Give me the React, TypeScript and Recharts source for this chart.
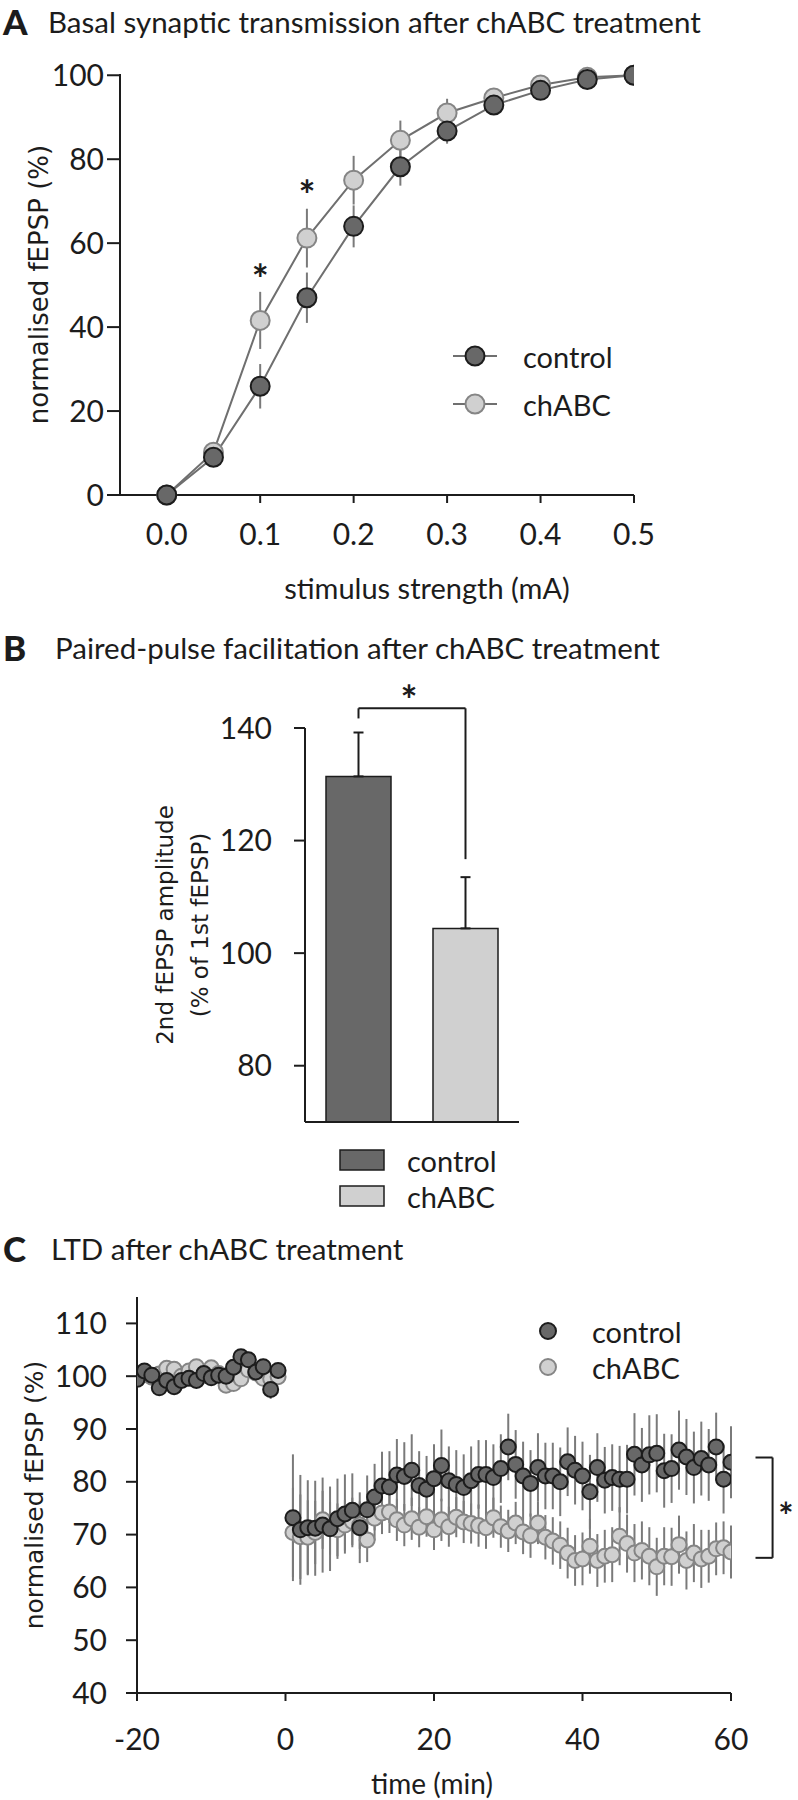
import React from 'react';
import {
  ComposedChart, Line, BarChart, Bar, Cell, ScatterChart, Scatter, XAxis, YAxis,
  ErrorBar, ReferenceLine, ReferenceDot, Legend,
} from 'recharts';

// ---- A: basal synaptic transmission ----
const stimulus = [0, 0.05, 0.1, 0.15, 0.2, 0.25, 0.3, 0.35, 0.4, 0.45, 0.5];
const ioControl = [0, 9.0, 25.9, 47.0, 64.0, 78.2, 86.7, 92.9, 96.4, 99.0, 100];
const ioControlErr = [0, 1.2, 5.3, 6.0, 5.0, 4.5, 3.0, 1.5, 1.2, 0.8, 0];
const ioChabc = [0, 10.2, 41.6, 61.2, 75.0, 84.5, 91.0, 94.6, 97.7, 99.5, 100];
const ioChabcErr = [0, 2.0, 6.8, 7.0, 5.8, 4.7, 3.4, 1.8, 1.2, 0.8, 0];
const ioStarX = [0.1, 0.15];
const ioStarY = [53.4, 73.4];
const ioTicksX = [0, 0.1, 0.2, 0.3, 0.4, 0.5];
const ioTicksY = [0, 20, 40, 60, 80, 100];

// ---- B: paired-pulse facilitation ----
const groups = ['control', 'chABC'];
const ppfMean = [131.4, 104.4];
const ppfSem = [7.8, 9.1];
const ppfTicks = [80, 100, 120, 140];

// ---- C: LTD time course ----
const ltdMinutes = [
  -20, -19, -18, -17, -16, -15, -14, -13, -12, -11, -10, -9, -8, -7, -6, -5, -4, -3, -2, -1,
  1, 2, 3, 4, 5, 6, 7, 8, 9, 10, 11, 12, 13, 14, 15, 16, 17, 18, 19, 20,
  21, 22, 23, 24, 25, 26, 27, 28, 29, 30, 31, 32, 33, 34, 35, 36, 37, 38, 39, 40,
  41, 42, 43, 44, 45, 46, 47, 48, 49, 50, 51, 52, 53, 54, 55, 56, 57, 58, 59, 60,
];
const ltdControl = [
  99.4, 101.0, 100.2, 97.8, 99.2, 98.0, 99.2, 99.6, 99.2, 100.5, 99.7, 100.2, 100.0, 101.7, 103.7, 103.1, 100.8, 101.8, 97.5, 101.1,
  73.2, 70.9, 71.3, 71.2, 71.8, 71.1, 73.0, 73.9, 74.6, 71.3, 74.7, 77.1, 79.2, 79.0, 81.3, 81.0, 82.2, 79.3, 78.6, 80.6,
  83.1, 80.2, 79.5, 78.9, 80.2, 81.4, 81.4, 80.8, 82.5, 86.6, 83.3, 81.1, 79.7, 82.7, 81.1, 81.1, 80.0, 83.8, 82.2, 81.1,
  78.1, 82.7, 80.3, 80.8, 80.5, 80.5, 85.2, 83.2, 85.1, 85.4, 82.1, 82.5, 86.0, 84.7, 82.7, 84.4, 83.2, 86.6, 80.5, 83.7,
];
const ltdControlErr = [
  1.2, 1.0, 1.1, 1.3, 1.0, 1.2, 1.1, 1.0, 1.2, 1.0, 1.1, 1.0, 1.2, 1.1, 1.3, 1.2, 1.4, 1.5, 1.8, 1.4,
  12.0, 10.4, 9.0, 9.0, 9.0, 8.0, 7.6, 7.5, 7.0, 6.7, 6.5, 6.3, 6.5, 6.8, 6.8, 6.5, 6.8, 6.5, 6.3, 6.5,
  6.8, 6.5, 6.5, 6.3, 6.5, 6.5, 6.5, 6.3, 6.5, 6.3, 6.5, 6.5, 6.3, 6.5, 6.3, 6.3, 6.5, 6.5, 6.5, 6.5,
  7.0, 6.5, 6.3, 6.3, 6.3, 6.5, 7.8, 7.0, 7.5, 7.4, 7.0, 6.5, 7.5, 7.2, 6.8, 7.0, 6.8, 6.5, 6.5, 6.8,
];
const ltdChabc = [
  99.5, 100.3, 99.8, 100.4, 101.5, 101.3, 100.0, 101.0, 101.8, 100.2, 101.6, 100.5, 98.3, 98.6, 99.5, 101.2, 100.6, 99.6, 99.5, 99.9,
  70.4, 69.6, 69.5, 70.4, 72.8, 71.2, 70.9, 71.8, 72.5, 71.8, 69.0, 73.1, 74.1, 74.3, 72.8, 71.8, 73.0, 71.4, 73.4, 70.9,
  72.8, 71.5, 73.3, 72.4, 72.1, 71.7, 71.3, 73.2, 71.5, 70.7, 72.2, 70.5, 69.8, 72.2, 69.5, 68.8, 68.0, 66.5, 65.1, 65.4,
  67.8, 65.1, 65.9, 66.2, 69.7, 68.3, 66.5, 67.0, 65.9, 63.9, 65.9, 65.8, 68.1, 65.1, 66.5, 65.4, 65.9, 67.3, 67.5, 66.7,
];
const ltdChabcErr = [
  1.2, 1.0, 1.2, 1.0, 1.1, 1.0, 1.2, 1.0, 1.1, 1.2, 1.0, 1.1, 1.3, 1.2, 1.0, 1.1, 1.2, 1.0, 1.1, 1.0,
  8.5, 8.0, 7.0, 6.0, 5.5, 5.0, 5.0, 4.8, 4.5, 4.5, 4.2, 4.2, 4.0, 4.0, 4.0, 4.0, 4.0, 3.8, 3.8, 3.8,
  4.0, 3.8, 3.8, 4.0, 3.8, 4.0, 4.0, 3.8, 4.0, 4.0, 4.0, 4.2, 4.2, 4.0, 4.2, 4.5, 4.5, 4.8, 4.8, 5.0,
  5.2, 5.0, 5.0, 5.2, 5.5, 5.5, 5.5, 5.5, 5.5, 5.5, 5.5, 5.5, 5.5, 5.5, 5.5, 5.5, 5.0, 5.0, 5.0, 5.0,
];
const ltdBracketY = [84.6, 65.6];
const ltdTicksX = [-20, 0, 20, 40, 60];
const ltdTicksY = [40, 50, 60, 70, 80, 90, 100, 110];

const FONT = 'Lato, "Open Sans", sans-serif';
const YFONT = '"DejaVu Sans", Verdana, sans-serif';
const INK = '#1c1c1c';
const DARK = '#686868';
const LIGHT = '#d0d0d0';
const LIGHT_EDGE = '#858585';
const LINE = '#6f6f6f';
const WHISKER = '#7a7a7a';

const tickStyle = { fontSize: 30, fill: INK, fontFamily: FONT };
const axisLine = { stroke: INK, strokeWidth: 2 };

const PanelTitle = ({ letter, text, top, textLeft }: any) => (
  <div style={{ position: 'absolute', left: 3, top, height: 40, display: 'flex', alignItems: 'center', fontFamily: FONT, color: INK, whiteSpace: 'nowrap' }}>
    <span style={{ fontWeight: 900, fontSize: 35, width: textLeft - 3 }}>{letter}</span>
    <span style={{ fontSize: 29.5 }}>{text}</span>
  </div>
);

const VerticalTitle = ({ viewBox, lines, offsets, size }: any) => {
  const cy = viewBox.y + viewBox.height / 2;
  return (
    <g>
      {lines.map((t: string, i: number) => {
        const x = viewBox.x + offsets[i];
        return (
          <text key={t} x={x} y={cy} transform={`rotate(-90 ${x} ${cy})`} textAnchor="middle"
            dominantBaseline="central" fontSize={size} fontFamily={YFONT} fill={INK}>{t}</text>
        );
      })}
    </g>
  );
};

const HorizontalTitle = ({ viewBox, text, dx, dy, size }: any) => (
  <text x={viewBox.x + viewBox.width / 2 + dx} y={viewBox.y + dy} textAnchor="middle"
    dominantBaseline="central" fontSize={size} fontFamily={FONT} fill={INK}>{text}</text>
);

// asterisk glyph centred on the given point
const Star = ({ x, y, size }: any) => (
  <text x={x} y={y} dy={size * 0.58} textAnchor="middle" fontSize={size} fontWeight={700} fontFamily={FONT} fill={INK}>*</text>
);
const starShape = (size: number) => (p: any) => <Star x={p.cx} y={p.cy} size={size} />;

const darkDot = (r: number) => (p: any) => (
  <circle key={`d${p.index}`} cx={p.cx} cy={p.cy} r={r} fill={DARK} stroke={INK} strokeWidth={2} />
);
const lightDot = (r: number) => (p: any) => (
  <circle key={`l${p.index}`} cx={p.cx} cy={p.cy} r={r} fill={LIGHT} stroke={LIGHT_EDGE} strokeWidth={2} />
);

const LegendRows = ({ kind, rowGap, markerX, textX, width, height, firstY }: any) => (
  <svg width={width} height={height} style={{ overflow: 'visible' }}>
    {groups.map((g, i) => {
      const cy = firstY + i * rowGap;
      const dark = i === 0;
      return (
        <g key={g}>
          {kind === 'line' && <line x1={markerX - 22} x2={markerX + 22} y1={cy} y2={cy} stroke={LINE} strokeWidth={2} />}
          {kind === 'rect'
            ? <rect x={markerX - 22} y={cy - 10} width={44} height={20} fill={dark ? DARK : LIGHT} stroke={INK} strokeWidth={1.5} />
            : <circle cx={markerX} cy={cy} r={kind === 'line' ? 9.5 : 8} fill={dark ? DARK : LIGHT} stroke={dark ? INK : LIGHT_EDGE} strokeWidth={2} />}
          <text x={textX} y={cy} dominantBaseline="central" fontSize={29} fontFamily={FONT} fill={INK}>{g}</text>
        </g>
      );
    })}
  </svg>
);

const ioData = stimulus.map((x, i) => ({
  x, control: ioControl[i], controlErr: ioControlErr[i], chabc: ioChabc[i], chabcErr: ioChabcErr[i],
}));
const ppfData = groups.map((g, i) => ({ group: g, mean: ppfMean[i], sem: [0, ppfSem[i]] }));
const ltdControlData = ltdMinutes.map((x, i) => ({ x, y: ltdControl[i], err: ltdControlErr[i] }));
const ltdChabcData = ltdMinutes.map((x, i) => ({ x, y: ltdChabc[i], err: ltdChabcErr[i] }));

export default function App() {
  return (
    <div style={{ position: 'absolute', left: 0, top: 0, width: 798, height: 1800, background: '#fff', overflow: 'hidden' }}>
      <PanelTitle letter="A" text="Basal synaptic transmission after chABC treatment" top={1} textLeft={48} />
      <PanelTitle letter="B" text="Paired-pulse facilitation after chABC treatment" top={627} textLeft={55} />
      <PanelTitle letter="C" text="LTD after chABC treatment" top={1228} textLeft={51} />

      <div style={{ position: 'absolute', left: 0, top: 0 }}>
        <ComposedChart width={798} height={620} data={ioData} margin={{ top: 74, right: 164, bottom: 65, left: 60 }}>
          <XAxis type="number" dataKey="x" domain={[-0.05, 0.5]} ticks={ioTicksX} tickFormatter={(v: number) => v.toFixed(1)}
            allowDataOverflow height={60} axisLine={axisLine} tickLine={axisLine} tickSize={8} tickMargin={21} tick={tickStyle}
            label={<HorizontalTitle text="stimulus strength (mA)" dx={50} dy={92} size={29} />} />
          <YAxis type="number" domain={[0, 100]} ticks={ioTicksY} width={60} axisLine={axisLine} tickLine={axisLine}
            tickSize={13} tickMargin={3} tick={tickStyle}
            label={<VerticalTitle lines={['normalised fEPSP (%)']} offsets={[-21]} size={26} />} />
          <Line type="linear" dataKey="chabc" stroke={LINE} strokeWidth={2} dot={lightDot(9.5)} activeDot={false} isAnimationActive={false}>
            <ErrorBar dataKey="chabcErr" width={0} stroke={WHISKER} strokeWidth={2} />
          </Line>
          <Line type="linear" dataKey="control" stroke={LINE} strokeWidth={2} dot={darkDot(9.5)} activeDot={false} isAnimationActive={false}>
            <ErrorBar dataKey="controlErr" width={0} stroke={WHISKER} strokeWidth={2} />
          </Line>
          {ioStarX.map((x, i) => (
            <ReferenceDot key={x} x={x} y={ioStarY[i]} r={0} ifOverflow="visible" shape={starShape(40)} />
          ))}
          <Legend layout="vertical" verticalAlign="middle" align="center"
            wrapperStyle={{ left: 440, top: 334, width: 200, height: 90 }}
            content={() => <LegendRows kind="line" rowGap={48} markerX={35} textX={83} width={200} height={90} firstY={22} />} />
        </ComposedChart>
      </div>

      <div style={{ position: 'absolute', left: 0, top: 600 }}>
        <BarChart width={798} height={625} data={ppfData} margin={{ top: 128, right: 279, bottom: 93, left: 245 }}>
          <XAxis dataKey="group" tick={false} tickLine={false} axisLine={axisLine} height={10} />
          <YAxis type="number" domain={[70, 140]} ticks={ppfTicks} width={60} axisLine={axisLine} tickLine={axisLine}
            tickSize={11} tickMargin={22} tick={tickStyle} allowDataOverflow
            label={<VerticalTitle lines={['2nd fEPSP amplitude', '(% of 1st fEPSP)']} offsets={[-80, -45]} size={23} />} />
          <Bar dataKey="mean" barSize={65} stroke={INK} strokeWidth={1.5} isAnimationActive={false}>
            {ppfData.map((d, i) => <Cell key={d.group} fill={i === 0 ? DARK : LIGHT} />)}
            <ErrorBar dataKey="sem" width={5} stroke={INK} strokeWidth={2} direction="y" />
          </Bar>
          <ReferenceLine segment={[{ x: 'control', y: 143.5 }, { x: 'chABC', y: 143.5 }]} stroke={INK} strokeWidth={2} ifOverflow="visible"
            label={(p: any) => <Star x={p.viewBox.x + p.viewBox.width / 2 - 3} y={p.viewBox.y - 17} size={40} />} />
          <ReferenceLine segment={[{ x: 'control', y: 143.5 }, { x: 'control', y: 141.7 }]} stroke={INK} strokeWidth={2} ifOverflow="visible" />
          <ReferenceLine segment={[{ x: 'chABC', y: 143.5 }, { x: 'chABC', y: 116.7 }]} stroke={INK} strokeWidth={2} ifOverflow="visible" />
          <Legend layout="vertical" verticalAlign="middle" align="center"
            wrapperStyle={{ left: 318, top: 540, width: 200, height: 80 }}
            content={() => <LegendRows kind="rect" rowGap={36} markerX={44} textX={89} width={200} height={80} firstY={20} />} />
        </BarChart>
      </div>

      <div style={{ position: 'absolute', left: 0, top: 1225 }}>
        <ScatterChart width={798} height={575} margin={{ top: 72, right: 67, bottom: 47, left: 77 }}>
          <XAxis type="number" dataKey="x" domain={[-20, 60]} ticks={ltdTicksX} allowDataOverflow height={60}
            axisLine={axisLine} tickLine={axisLine} tickSize={8} tickMargin={28} tick={tickStyle}
            label={<HorizontalTitle text="time (min)" dx={-2} dy={90} size={28} />} />
          <YAxis type="number" dataKey="y" domain={[40, 115]} ticks={ltdTicksY} allowDataOverflow width={60}
            axisLine={axisLine} tickLine={axisLine} tickSize={11} tickMargin={19} tick={tickStyle}
            label={<VerticalTitle lines={['normalised fEPSP (%)']} offsets={[-43]} size={25} />} />
          <Scatter data={ltdChabcData} shape={lightDot(7.5)} isAnimationActive={false}>
            <ErrorBar dataKey="err" direction="y" width={0} stroke={WHISKER} strokeWidth={2} />
          </Scatter>
          <Scatter data={ltdControlData} shape={darkDot(7.5)} isAnimationActive={false}>
            <ErrorBar dataKey="err" direction="y" width={0} stroke={WHISKER} strokeWidth={2} />
          </Scatter>
          <ReferenceLine segment={[{ x: 63.3, y: ltdBracketY[0] }, { x: 65.6, y: ltdBracketY[0] }]} stroke={INK} strokeWidth={2} ifOverflow="visible" />
          <ReferenceLine segment={[{ x: 63.3, y: ltdBracketY[1] }, { x: 65.6, y: ltdBracketY[1] }]} stroke={INK} strokeWidth={2} ifOverflow="visible" />
          <ReferenceLine segment={[{ x: 65.6, y: ltdBracketY[0] }, { x: 65.6, y: ltdBracketY[1] }]} stroke={INK} strokeWidth={2} ifOverflow="visible" />
          <ReferenceDot x={67.4} y={(ltdBracketY[0] + ltdBracketY[1]) / 2} r={0} ifOverflow="visible" shape={starShape(36)} />
          <Legend layout="vertical" verticalAlign="middle" align="center"
            wrapperStyle={{ left: 530, top: 85, width: 200, height: 80 }}
            content={() => <LegendRows kind="dot" rowGap={36} markerX={18} textX={62} width={200} height={80} firstY={21} />} />
        </ScatterChart>
      </div>
    </div>
  );
}
